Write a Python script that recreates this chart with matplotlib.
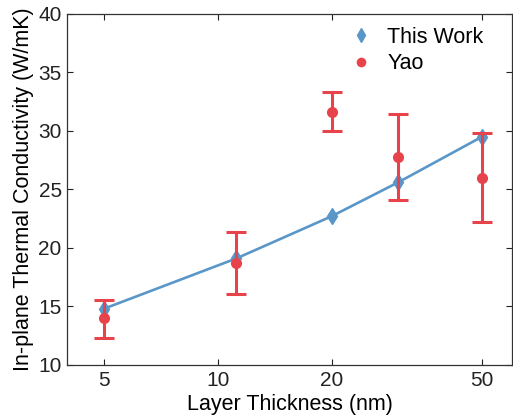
import matplotlib.pyplot as plt
import matplotlib.ticker as ticker

plt.rcParams['font.family'] = ['Liberation Sans', 'DejaVu Sans']

# data
thickness = [5, 11.2, 20, 30, 50]
this_work = [14.8, 19.1, 22.7, 25.6, 29.5]
yao = [14.0, 18.75, 31.65, 27.8, 26.0]
yao_low = [12.3, 16.1, 29.95, 24.1, 22.2]
yao_high = [15.55, 21.4, 33.35, 31.4, 29.8]

blue = '#5a97c8'
red = '#e8434a'

fig = plt.figure(figsize=(5.13, 4.19), dpi=100)
ax = fig.add_axes([0.131, 0.129, 0.867, 0.838])

yerr = [[y - lo for y, lo in zip(yao, yao_low)],
        [hi - y for y, hi in zip(yao, yao_high)]]

ax.plot(thickness, this_work, color=blue, lw=1.9, zorder=2)
ax.plot(thickness, this_work, 'd', color=blue, ms=8, ls='none',
        label='This Work', zorder=3)
ax.errorbar(thickness, yao, yerr=yerr, fmt='none', ecolor=red,
            elinewidth=2.2, capsize=7, capthick=2.2, zorder=4)
ax.plot(thickness, yao, 'o', color=red, ms=7, ls='none', label='Yao', zorder=5)

ax.set_xscale('log')
ax.set_xlim(4, 60)
ax.set_ylim(10, 40)
ax.xaxis.set_major_locator(ticker.FixedLocator([5, 10, 20, 50]))
ax.xaxis.set_major_formatter(ticker.FixedFormatter(['5', '10', '20', '50']))
ax.xaxis.set_minor_locator(ticker.NullLocator())
ax.set_yticks([10, 15, 20, 25, 30, 35, 40])

ax.tick_params(direction='in', top=True, right=True, length=4,
               width=0.8, labelsize=15, colors='#222222', pad=4)
for s in ax.spines.values():
    s.set_color('#333333')
    s.set_linewidth(0.9)

ax.set_xlabel('Layer Thickness (nm)', fontsize=15.5, labelpad=3)
ax.set_ylabel('In-plane Thermal Conductivity (W/mK)', fontsize=15.5, labelpad=3)

ax.legend(loc='upper right', frameon=False, fontsize=15.5, handletextpad=0.6,
          handlelength=1.2, borderaxespad=0.2, labelspacing=0.25,
          markerscale=0.85, bbox_to_anchor=(0.965, 1.0))

fig.savefig('out.png', dpi=100)
